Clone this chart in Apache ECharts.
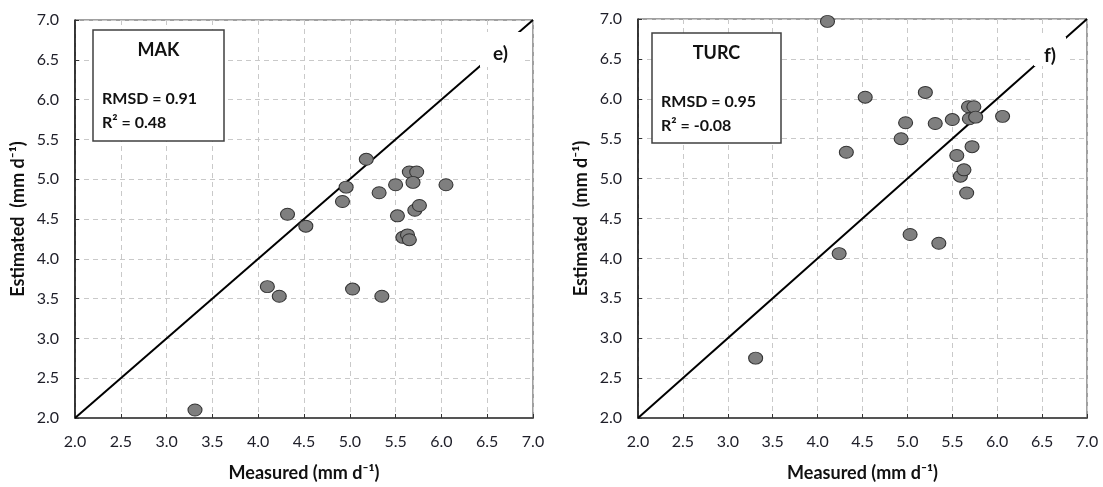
<!DOCTYPE html>
<html>
<head>
<meta charset="utf-8">
<script src="https://cdn.jsdelivr.net/npm/echarts@6/dist/echarts.min.js"></script>
<style>
  html, body { margin: 0; padding: 0; background: #fff; }
  #chart { width: 1103px; height: 487px; }
</style>
</head>
<body>
<div id="chart"></div>
<script>
// axis ticks (both panels, both axes)
var tickMin = 2.0
var tickMax = 7.0
var tickStep = 0.5

// panel e) MAK
var makMeasured = [3.31, 4.10, 4.23, 4.32, 4.52, 4.92, 4.96, 5.03, 5.18, 5.32, 5.35,
  5.50, 5.52, 5.58, 5.63, 5.65, 5.65, 5.73, 5.69, 5.71, 5.76, 6.05]
var makEstimated = [2.10, 3.65, 3.53, 4.56, 4.41, 4.72, 4.90, 3.62, 5.25, 4.83, 3.53,
  4.93, 4.54, 4.27, 4.30, 4.24, 5.09, 5.09, 4.96, 4.61, 4.67, 4.93]

// panel f) TURC
var turcMeasured = [3.31, 4.11, 4.24, 4.32, 4.53, 4.93, 4.98, 5.03, 5.20, 5.31, 5.35,
  5.50, 5.55, 5.59, 5.63, 5.66, 5.68, 5.74, 5.69, 5.76, 5.72, 6.06]
var turcEstimated = [2.75, 6.97, 4.06, 5.33, 6.02, 5.50, 5.70, 4.30, 6.08, 5.69, 4.19,
  5.74, 5.29, 5.03, 5.11, 4.82, 5.90, 5.90, 5.75, 5.77, 5.40, 5.78]

// 1:1 reference line
var oneToOne = [[2, 2], [7, 7]]

var panels = [
  { title: 'MAK', rmsd: 'RMSD = 0.91', r2: 'R\u00b2 = 0.48', tag: 'e)' },
  { title: 'TURC', rmsd: 'RMSD = 0.95', r2: 'R\u00b2 = -0.08', tag: 'f)' }
]

var font = 'Lato, "Open Sans", sans-serif'
var labelColor = '#1e1e28'
var gridColor = '#c9c9c9'

function pairs (xs, ys) {
  var out = []
  for (var i = 0; i < xs.length; i++) {
    out.push([xs[i], ys[i]])
  }
  return out
}

function makeX (idx) {
  return {
    type: 'value',
    gridIndex: idx,
    min: tickMin,
    max: tickMax,
    interval: tickStep,
    name: 'Measured (mm d\u207b\u00b9)',
    nameLocation: 'middle',
    nameGap: 46,
    nameTextStyle: { fontFamily: font, fontWeight: 'bold', fontSize: 18, color: '#111' },
    axisLine: { show: true, onZero: false, lineStyle: { color: '#555', width: 2 } },
    axisTick: { show: true, inside: true, length: 4, lineStyle: { color: '#333' } },
    axisLabel: {
      fontFamily: font, fontSize: 16, color: labelColor, margin: 16,
      formatter: function (v) { return v.toFixed(1) }
    },
    splitLine: { show: true, lineStyle: { color: gridColor, type: [5, 4] } }
  }
}

function makeY (idx) {
  return {
    type: 'value',
    gridIndex: idx,
    min: tickMin,
    max: tickMax,
    interval: tickStep,
    name: 'Estimated  (mm d\u207b\u00b9)',
    nameLocation: 'middle',
    nameGap: 48,
    nameTextStyle: { fontFamily: font, fontWeight: 'bold', fontSize: 18, color: '#111' },
    axisLine: { show: true, onZero: false, lineStyle: { color: '#111', width: 1.5 } },
    axisTick: { show: true, inside: true, length: 4, lineStyle: { color: '#333' } },
    axisLabel: {
      fontFamily: font, fontSize: 16, color: labelColor, margin: 16,
      formatter: function (v) { return v.toFixed(1) }
    },
    splitLine: { show: true, lineStyle: { color: gridColor, type: [5, 4] } }
  }
}

function scatterSeries (idx, xs, ys) {
  return {
    type: 'scatter',
    xAxisIndex: idx,
    yAxisIndex: idx,
    z: 5,
    symbol: 'circle',
    symbolSize: [14, 12],
    itemStyle: { color: '#7f7f7f', borderColor: '#333', borderWidth: 1, opacity: 1 },
    data: pairs(xs, ys)
  }
}

function lineSeries (idx) {
  return {
    type: 'line',
    xAxisIndex: idx,
    yAxisIndex: idx,
    z: 3,
    symbol: 'none',
    silent: true,
    lineStyle: { color: '#000', width: 2 },
    data: oneToOne
  }
}

// stats boxes and panel tags, placed in pixels
var boxes = [
  { x: 93, y: 30, w: 131, h: 111, tagX: 480, tagY: 32, tagW: 41, tagH: 35 },
  { x: 652, y: 33, w: 129, h: 110, tagX: 1034, tagY: 37, tagW: 32, tagH: 29 }
]

var graphics = []
boxes.forEach(function (b, i) {
  var p = panels[i]
  graphics.push({
    type: 'rect', z: 10,
    shape: { x: b.x, y: b.y, width: b.w, height: b.h },
    style: { fill: '#fff', stroke: '#404040', lineWidth: 1.5 }
  })
  graphics.push({
    type: 'text', z: 11, x: b.x + b.w / 2, y: b.y + 20,
    style: { text: p.title, font: 'bold 18px ' + font, fill: '#111', align: 'center', verticalAlign: 'middle' }
  })
  graphics.push({
    type: 'text', z: 11, x: b.x + 9, y: b.y + 69,
    style: { text: p.rmsd, font: 'bold 16px ' + font, fill: '#111', verticalAlign: 'middle' }
  })
  graphics.push({
    type: 'text', z: 11, x: b.x + 9, y: b.y + 93,
    style: { text: p.r2, font: 'bold 16px ' + font, fill: '#111', verticalAlign: 'middle' }
  })
  // white patch breaks the 1:1 line around the tag
  graphics.push({
    type: 'rect', z: 10,
    shape: { x: b.tagX, y: b.tagY, width: b.tagW, height: b.tagH },
    style: { fill: '#fff' }
  })
  graphics.push({
    type: 'text', z: 11, x: b.tagX + b.tagW / 2, y: b.tagY + b.tagH / 2 + 4,
    style: { text: p.tag, font: 'bold 19px ' + font, fill: '#111', align: 'center', verticalAlign: 'middle' }
  })
})

var chart = echarts.init(document.getElementById('chart'))
var option = {
  backgroundColor: '#fff',
  animation: false,
  grid: [
    { left: 75, top: 20, width: 458, height: 398, show: true, borderColor: '#404040', borderWidth: 1, containLabel: false },
    { left: 638, top: 19, width: 449, height: 399, show: true, borderColor: '#404040', borderWidth: 1, containLabel: false }
  ],
  xAxis: [makeX(0), makeX(1)],
  yAxis: [makeY(0), makeY(1)],
  series: [
    lineSeries(0),
    scatterSeries(0, makMeasured, makEstimated),
    lineSeries(1),
    scatterSeries(1, turcMeasured, turcEstimated)
  ],
  graphic: graphics
}
chart.setOption(option)
</script>
</body>
</html>
